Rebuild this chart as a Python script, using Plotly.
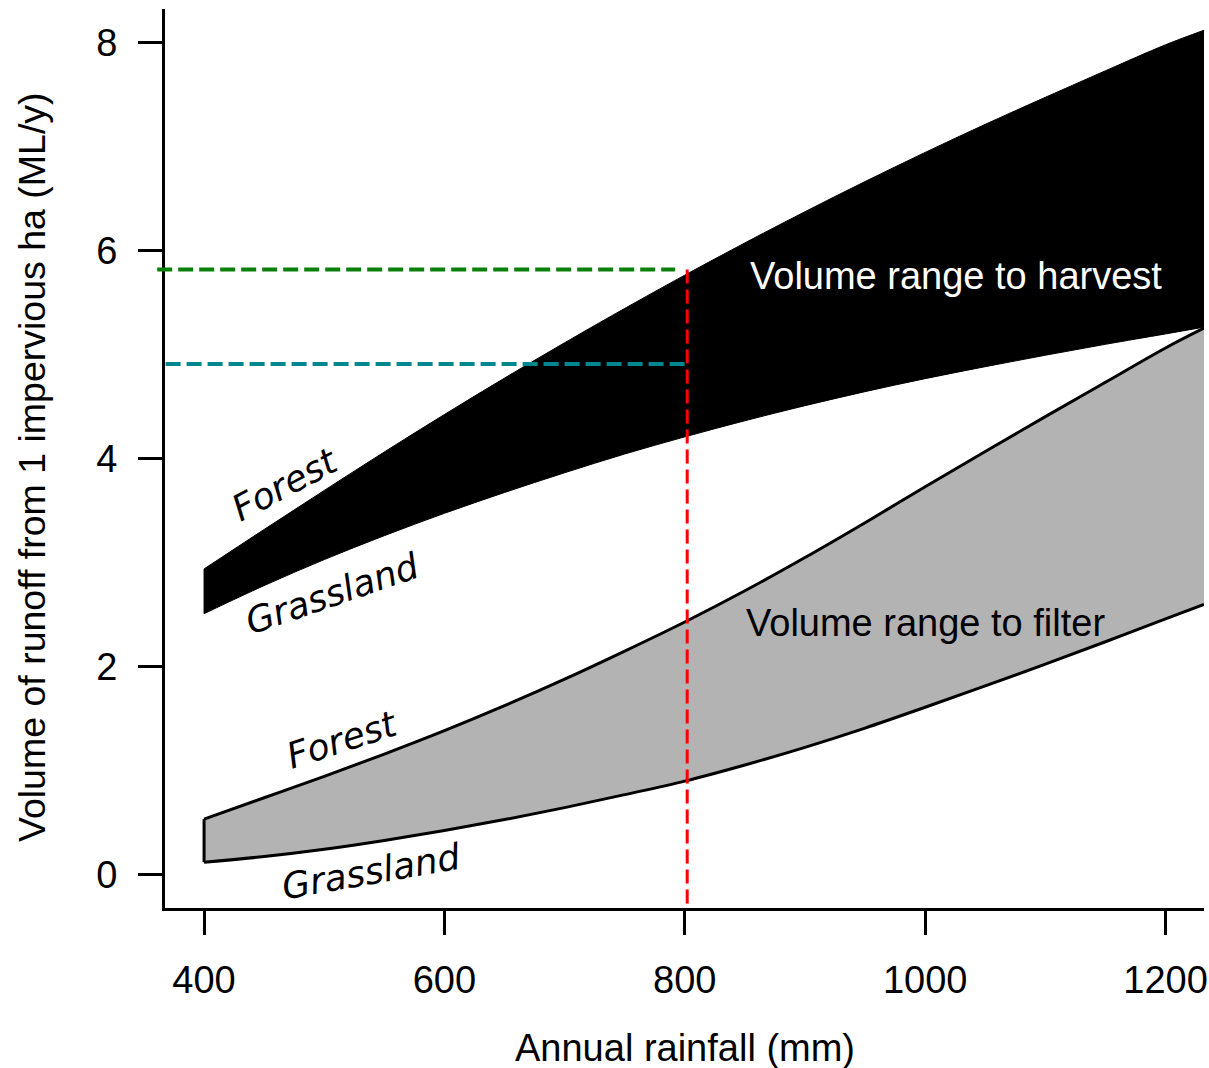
import plotly.graph_objects as go

# ---- data ----
rain = [400, 450, 500, 550, 600, 650, 700, 750, 800, 850, 900, 950,
        1000, 1050, 1100, 1150, 1200, 1232]
harvest_forest = [2.94, 3.32, 3.695, 4.065, 4.425, 4.775, 5.115, 5.445, 5.765, 6.075,
                  6.375, 6.665, 6.945, 7.215, 7.475, 7.73, 7.98, 8.12]
harvest_grass = [2.51, 2.78, 3.03, 3.26, 3.475, 3.675, 3.865, 4.045, 4.21, 4.365,
                 4.51, 4.645, 4.77, 4.885, 4.995, 5.10, 5.20, 5.265]
filter_forest = [0.535, 0.74, 0.945, 1.16, 1.385, 1.625, 1.88, 2.15, 2.43, 2.73,
                 3.05, 3.385, 3.73, 4.07, 4.405, 4.735, 5.065, 5.255]
filter_grass = [0.12, 0.175, 0.245, 0.33, 0.425, 0.53, 0.645, 0.77, 0.90, 1.055,
                1.225, 1.41, 1.61, 1.815, 2.025, 2.24, 2.46, 2.60]

x_ticks = [400, 600, 800, 1000, 1200]
y_ticks = [0, 2, 4, 6, 8]

x_range = [367.5, 1232]
y_range = [-0.32, 8.324]

rain_marker = 802          # vertical red line
harvest_level_hi = 5.82    # green dashed line
harvest_level_lo = 4.91    # teal dashed line
green_start, green_end = 361, 792
teal_start = 368

ARIAL = "Liberation Sans, Arial, sans-serif"
ITAL = "DejaVu Sans, Verdana, sans-serif"

fig = go.Figure()


def band(bottom, top, fill, outline):
    fig.add_trace(go.Scatter(x=rain, y=bottom, mode="lines",
                             line=dict(width=0, shape="spline", smoothing=1),
                             hoverinfo="skip", showlegend=False))
    fig.add_trace(go.Scatter(x=rain, y=top, mode="lines",
                             line=dict(width=0, shape="spline", smoothing=1),
                             fill="tonexty", fillcolor=fill,
                             hoverinfo="skip", showlegend=False))
    for ys in (top, bottom):
        fig.add_trace(go.Scatter(x=rain, y=ys, mode="lines",
                                 line=dict(color="black", width=outline, shape="spline", smoothing=1),
                                 hoverinfo="skip", showlegend=False))
    fig.add_trace(go.Scatter(x=[rain[0], rain[0]], y=[bottom[0], top[0]], mode="lines",
                             line=dict(color="black", width=outline),
                             hoverinfo="skip", showlegend=False))


band(filter_grass, filter_forest, "#b3b3b3", 3)
band(harvest_grass, harvest_forest, "black", 1)


def to_paper_x(v):
    return (v - x_range[0]) / (x_range[1] - x_range[0])


# dashed reference lines
fig.add_shape(type="line", xref="paper", yref="y",
              x0=to_paper_x(green_start), x1=to_paper_x(green_end),
              y0=harvest_level_hi, y1=harvest_level_hi,
              line=dict(color="#0a800a", width=4, dash="15px,6px"))
fig.add_shape(type="line", xref="paper", yref="y",
              x0=to_paper_x(teal_start), x1=to_paper_x(rain_marker),
              y0=harvest_level_lo, y1=harvest_level_lo,
              line=dict(color="#00878f", width=4, dash="15px,6px"))
fig.add_shape(type="line", xref="x", yref="y",
              x0=rain_marker, x1=rain_marker,
              y0=harvest_level_hi, y1=y_range[0],
              line=dict(color="#ff0000", width=3, dash="14px,6px"))

# text labels
fig.add_annotation(x=1025.7, y=5.76, text="Volume range to harvest", showarrow=False,
                   font=dict(family=ARIAL, size=38, color="white"))
fig.add_annotation(x=1000, y=2.42, text="Volume range to filter", showarrow=False,
                   font=dict(family=ARIAL, size=38, color="black"))
fig.add_annotation(x=467, y=3.75, text="<i>Forest</i>", showarrow=False, textangle=-28,
                   font=dict(family=ITAL, size=36, color="black"))
fig.add_annotation(x=507, y=2.70, text="<i>Grassland</i>", showarrow=False, textangle=-19,
                   font=dict(family=ITAL, size=36, color="black"))
fig.add_annotation(x=515, y=1.30, text="<i>Forest</i>", showarrow=False, textangle=-18,
                   font=dict(family=ITAL, size=36, color="black"))
fig.add_annotation(x=539, y=0.03, text="<i>Grassland</i>", showarrow=False, textangle=-10,
                   font=dict(family=ITAL, size=36, color="black"))

# axis titles
fig.add_annotation(xref="paper", yref="paper", x=0.5005, y=-0.1557,
                   xanchor="center", yanchor="middle",
                   text="Annual rainfall (mm)", showarrow=False,
                   font=dict(family=ARIAL, size=38, color="black"))
fig.add_annotation(xref="paper", yref="paper", x=-0.128, y=0.4905, textangle=-90,
                   xanchor="center", yanchor="middle",
                   text="Volume of runoff from 1 impervious ha (ML/y)", showarrow=False,
                   font=dict(family=ARIAL, size=37.5, color="black"))

axis_common = dict(ticks="outside", ticklen=24, tickwidth=3, tickcolor="black",
                   showline=True, linewidth=3, linecolor="black",
                   showgrid=False, zeroline=False, automargin=False,
                   tickfont=dict(family=ARIAL, size=38, color="black"))

fig.update_layout(
    width=1209, height=1068,
    margin=dict(l=165, r=5, t=9, b=160, autoexpand=False),
    plot_bgcolor="white", paper_bgcolor="white",
    showlegend=False,
    xaxis=dict(range=x_range, tickvals=x_ticks, ticklabelstandoff=12, **axis_common),
    yaxis=dict(range=y_range, tickvals=y_ticks, ticklabelstandoff=13, **axis_common),
)

fig.write_html(
    "out.html",
    config={"displayModeBar": False},
    post_script="document.body.style.margin='0';document.body.style.overflow='hidden';"
                "document.documentElement.style.overflow='hidden';",
)
